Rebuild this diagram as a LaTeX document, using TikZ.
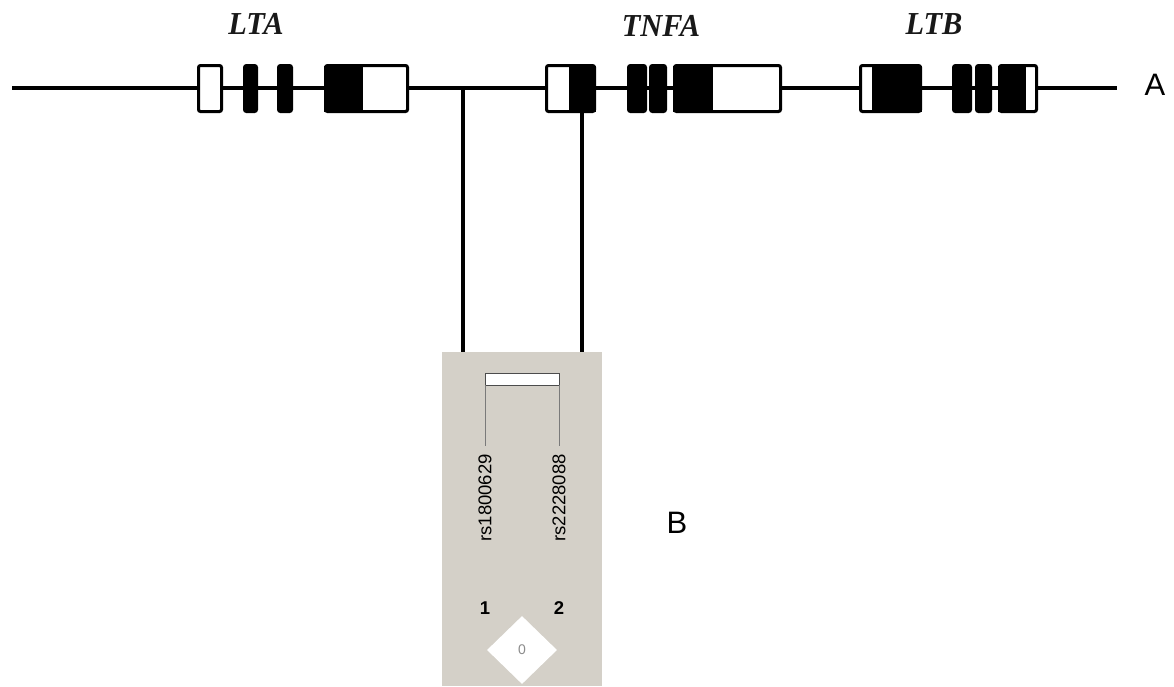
\documentclass[tikz,border=0pt]{standalone}
\usepackage{fontspec}
\setmainfont{Liberation Serif}
\newfontfamily\arialf{Liberation Sans}
\usetikzlibrary{shapes.geometric}
\definecolor{panelgray}{HTML}{D4D0C8}
\definecolor{tickgray}{HTML}{7A7A7A}
\tikzset{
  exonbox/.style={draw=black, line width=3pt, rounded corners=2pt},
  genelabel/.style={font=\fontsize{32}{32}\selectfont\bfseries\itshape, text=black!90, inner sep=0pt, xscale=0.95},
  panellabel/.style={font=\arialf\fontsize{31}{31}\selectfont, inner sep=0pt},
  snplabel/.style={font=\arialf\fontsize{18.5}{18.5}\selectfont, rotate=90, anchor=east, inner sep=0pt},
  numlabel/.style={font=\arialf\bfseries\fontsize{18.5}{18.5}\selectfont, inner sep=0pt},
  connector/.style={line width=4pt, black},
  tick/.style={line width=0.8pt, tickgray}
}
\newcommand{\whiteexon}[2]{\draw[exonbox, fill=white] (#1+1.5,65.5) rectangle (#2-1.5,111.5);}
\newcommand{\blackexon}[2]{\draw[exonbox, fill=black] (#1+1.5,65.5) rectangle (#2-1.5,111.5);}
% box from #1 to #2 that is black from #3 to #4
\newcommand{\mixexon}[4]{\fill[white, rounded corners=2pt] (#1+1.5,65.5) rectangle (#2-1.5,111.5);
  \fill[black] (#3,65.5) rectangle (#4,111.5);
  \draw[exonbox] (#1+1.5,65.5) rectangle (#2-1.5,111.5);}
\begin{document}
\begin{tikzpicture}[x=1pt,y=-1pt]
\useasboundingbox (0,0) rectangle (1174,686);
% main line
\coordinate (lstart) at (12,88);
\coordinate (lend) at (1117,88);
\draw[line width=4pt] (lstart) -- (lend);
% LTA
\whiteexon{197}{223}
\blackexon{243}{258}
\blackexon{277}{293}
\mixexon{324}{409}{324}{363}
% TNFA
\mixexon{545}{596}{569}{596}
\blackexon{627}{647}
\blackexon{649}{667}
\mixexon{673}{782}{673}{713}
% LTB
\mixexon{859}{922}{872}{922}
\blackexon{952}{972}
\blackexon{975}{992}
\mixexon{998}{1038}{998}{1026}
% gene labels
\node[genelabel] (lta) at (256,24) {LTA};
\node[genelabel] (tnfa) at (661,26) {TNFA};
\node[genelabel] (ltb) at (934,24) {LTB};
\node[panellabel] (A) at (1155,85) {A};
% panel
\fill[panelgray] (442,352) rectangle (602,686);
\coordinate (snp1top) at (463,88);
\coordinate (snp1bot) at (463,352);
\coordinate (snp2top) at (582,111);
\coordinate (snp2bot) at (582,352);
\draw[connector] (snp1top) -- (snp1bot);
\draw[connector] (snp2top) -- (snp2bot);
\draw[line width=1pt, draw=black!70, fill=white] (485,373) rectangle (559,385);
\coordinate (t1a) at (485,385);
\coordinate (t1b) at (485,446);
\coordinate (t2a) at (559,385);
\coordinate (t2b) at (559,446);
\draw[tick] (t1a) -- (t1b);
\draw[tick] (t2a) -- (t2b);
\node[snplabel] (rs1) at (485,454) {rs1800629};
\node[snplabel] (rs2) at (559,454) {rs2228088};
\node[numlabel] (n1) at (485,608) {1};
\node[numlabel] (n2) at (559,608) {2};
\node[shape=diamond, fill=white, minimum width=70pt, minimum height=68pt, inner sep=0pt,
      font=\arialf\fontsize{14}{14}\selectfont, text=black!45] (ld) at (522,650) {0};
\node[panellabel] (B) at (677,523) {B};
\end{tikzpicture}
\end{document}
